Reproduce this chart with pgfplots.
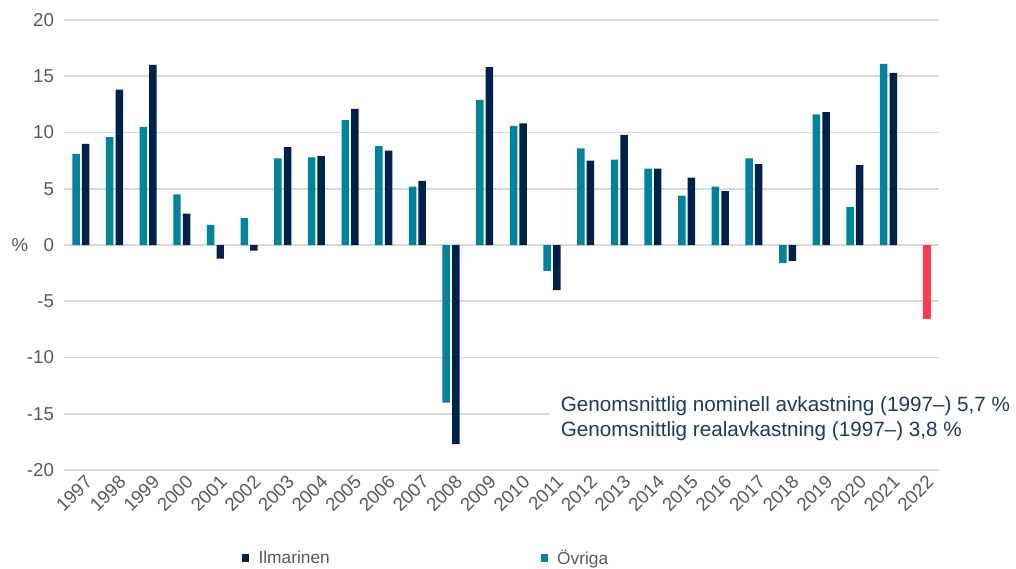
\documentclass[border=0pt]{standalone}
\usepackage{fontspec}
\setmainfont{Liberation Sans}
\usepackage{pgfplots}
\pgfplotsset{compat=1.18}
\definecolor{ovr}{HTML}{00839B}
\definecolor{ilm}{HTML}{00224A}
\definecolor{redb}{HTML}{FF3A55}
\definecolor{gridc}{HTML}{D9D9D9}
\definecolor{txtg}{HTML}{595959}
\definecolor{annot}{HTML}{1F3A5F}
\begin{document}
\begin{tikzpicture}
\path[use as bounding box] (0,0) rectangle (762pt,426pt);
\begin{axis}[
  at={(48pt,73.5pt)}, anchor=south west, scale only axis,
  width=656.25pt, height=337.5pt,
  xmin=-0.5, xmax=25.5, ymin=-20, ymax=20,
  ytick={-20,-15,...,20},
  xtick={0,...,25},
  xticklabels={1997,1998,1999,2000,2001,2002,2003,2004,2005,2006,2007,2008,2009,2010,2011,2012,2013,2014,2015,2016,2017,2018,2019,2020,2021,2022},
  axis line style={draw=none},
  major tick length=0pt,
  ymajorgrids, grid style={gridc, line width=1.4pt},
  /pgf/number format/assume math mode=true,
  tick label style={text=txtg, font=\fontsize{14}{16}\selectfont},
  yticklabel style={xshift=-4pt},
  xticklabel style={rotate=45, anchor=east, xshift=3pt, yshift=-9pt},
  clip=false,
  legend style={at={(rel axis cs:0.203,-0.1956)}, anchor=west, draw=none, fill=none,
    inner sep=0pt, legend columns=2,
    font=\fontsize{13}{15}\selectfont, text=txtg,
    nodes={inner sep=0pt},
    /tikz/every odd column/.append style={column sep=7pt},
    /tikz/every even column/.append style={column sep=158pt}},
]
\addplot[ybar, bar width=5.6pt, bar shift=3.6pt, fill=ilm, draw=none,
  legend image code/.code={\fill[ilm] (0pt,-2.75pt) rectangle (5.5pt,2.75pt);}]
  coordinates {(0,9.0) (1,13.8) (2,16.0) (3,2.8) (4,-1.2) (5,-0.5) (6,8.7) (7,7.9) (8,12.1) (9,8.4) (10,5.7) (11,-17.7) (12,15.8) (13,10.8) (14,-4.0) (15,7.5) (16,9.8) (17,6.8) (18,6.0) (19,4.8) (20,7.2) (21,-1.4) (22,11.8) (23,7.1) (24,15.3)};
\addlegendentry{Ilmarinen}
\addplot[ybar, bar width=5.6pt, bar shift=-3.6pt, fill=ovr, draw=none,
  legend image code/.code={\fill[ovr] (0pt,-2.75pt) rectangle (5.5pt,2.75pt);}]
  coordinates {(0,8.1) (1,9.6) (2,10.5) (3,4.5) (4,1.8) (5,2.4) (6,7.7) (7,7.8) (8,11.1) (9,8.8) (10,5.2) (11,-14.0) (12,12.9) (13,10.6) (14,-2.3) (15,8.6) (16,7.6) (17,6.8) (18,4.4) (19,5.2) (20,7.7) (21,-1.6) (22,11.6) (23,3.4) (24,16.1)};
\addlegendentry{Övriga}
\addplot[ybar, bar width=5.6pt, bar shift=3.6pt, fill=redb, draw=none, forget plot]
  coordinates {(25,-6.6)};
\node[anchor=west, fill=white, inner xsep=8pt, inner ysep=4pt, align=left, text=annot,
  font=\fontsize{15.5}{18.75}\selectfont] at (axis cs:13.94,-15.4)
  {Genomsnittlig nominell avkastning (1997–) 5,7 \%\\Genomsnittlig realavkastning (1997–) 3,8 \%};
\node[text=txtg, font=\fontsize{14}{16}\selectfont] at (rel axis cs:0,0.5) [xshift=-33pt] {\%};
\end{axis}
\end{tikzpicture}
\end{document}
